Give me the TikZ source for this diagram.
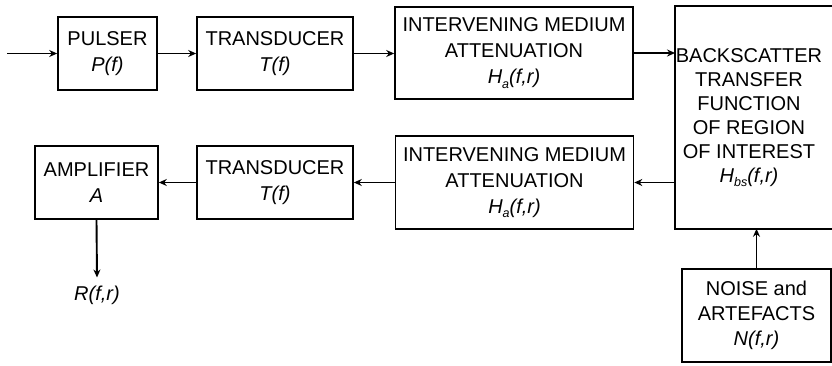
\documentclass[tikz,border=0pt]{standalone}
\usepackage{fontspec}
\setmainfont{Liberation Sans}
\usetikzlibrary{arrows.meta}
\newcommand\lowsub[1]{\raisebox{-0.45ex}{\fontsize{12.5}{12.5}\selectfont #1}}
\begin{document}
\begin{tikzpicture}[x=1pt,y=-1pt,
  blk/.style={draw, line width=1.6pt, rectangle, inner sep=0pt, align=center,
    font=\fontsize{20}{26}\selectfont},
  conn/.style={line width=1.9pt, -{Stealth[length=8pt,width=7pt]}}]
\useasboundingbox (0,0) rectangle (832,366);
% top row
\node[blk, minimum width=99pt, minimum height=73pt] (pulser) at (107.5,53.5) {PULSER\\\textit{P(f)}};
\node[blk, minimum width=156pt, minimum height=73pt] (tr1) at (275,53.5) {TRANSDUCER\\\textit{T(f)}};
\node[blk, minimum width=238pt, minimum height=92pt] (att1) at (514,53) {INTERVENING MEDIUM\\ATTENUATION\\\textit{H\lowsub{a}(f,r)}};
\node[blk, draw=none, minimum width=146pt, minimum height=221pt, font=\fontsize{20}{24}\selectfont] (bs) at (749,117.5)
  {BACKSCATTER\\TRANSFER\\FUNCTION\\OF REGION\\OF INTEREST\\\textit{H\lowsub{bs}(f,r)}};
\draw[line width=1.6pt] (bs.north west) rectangle ([xshift=14pt]bs.south east);
% bottom row
\node[blk, minimum width=238pt, minimum height=93pt] (att2) at (514.5,182.5) {INTERVENING MEDIUM\\ATTENUATION\\\textit{H\lowsub{a}(f,r)}};
\node[blk, minimum width=156pt, minimum height=73pt] (tr2) at (275,182.5) {TRANSDUCER\\\textit{T(f)}};
\node[blk, minimum width=123pt, minimum height=73pt] (amp) at (96.5,182.5) {AMPLIFIER\\\textit{A}};
\node[blk, minimum width=149pt, minimum height=93pt, font=\fontsize{20}{25}\selectfont] (noise) at (756.5,315.5) {NOISE and\\ARTEFACTS\\\textit{N(f,r)}};
\node[inner sep=0pt, font=\fontsize{20}{24}\selectfont] (out) at (97,295) {\textit{R(f,r)}};
\coordinate (in) at (7,53.5);
% connectors
\draw[conn] (in) -- (pulser.west);
\draw[conn] (pulser.east) -- (tr1.west);
\draw[conn] (tr1.east) -- (tr1.east -| att1.west);
\draw[conn] (att1.east) -- (att1.east -| bs.west);
\draw[conn] (bs.west |- att2.east) -- (att2.east);
\draw[conn] (att2.west) -- (tr2.east);
\draw[conn] (tr2.west) -- (amp.east);
\draw[conn] (amp.south) -- ([yshift=8pt]out.north);
\draw[conn] (noise.north) -- (noise.north |- bs.south);
\end{tikzpicture}
\end{document}
